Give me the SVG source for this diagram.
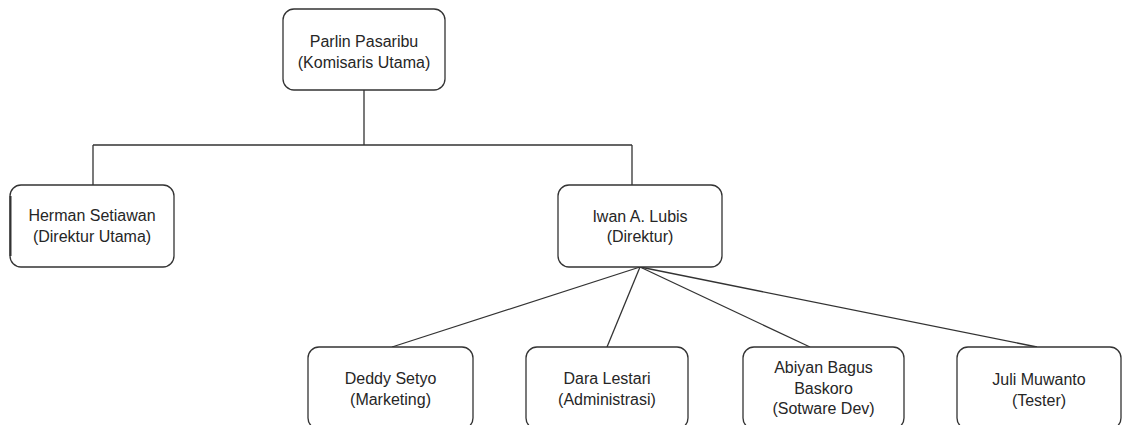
<svg xmlns="http://www.w3.org/2000/svg" width="1124" height="425" viewBox="0 0 1124 425">
  <style>
    .box { fill: #ffffff; stroke: #333333; stroke-width: 1.3; }
    .lbl { font-family: "Liberation Sans", Arial, sans-serif; font-size: 16px; fill: #262626; text-anchor: middle; }
    .wire { fill: none; stroke: #333333; stroke-width: 1.3; }
  </style>
  <rect width="1124" height="425" fill="#ffffff"/>

  <!-- connectors -->
  <g id="connectors">
    <path class="wire" d="M364 90 V145 M93 145 H632 M93 145 V185 M632 145 V185"/>
    <path class="wire" d="M640 267 L392 347"/>
    <path class="wire" d="M640 267 L607 347"/>
    <path class="wire" d="M640 267 L810 347"/>
    <path class="wire" d="M640 267 L1037 347"/>
  </g>

  <g id="node-parlin">
    <rect class="box" x="283" y="9" width="162" height="81" rx="11"/>
    <text class="lbl" x="364" y="47">Parlin Pasaribu</text>
    <text class="lbl" x="364" y="68">(Komisaris Utama)</text>
  </g>

  <g id="node-herman">
    <rect class="box" x="10" y="185" width="164" height="82" rx="11"/>
    <line x1="10.5" y1="196" x2="10.5" y2="256" stroke="#333333" stroke-width="2"/>
    <text class="lbl" x="92" y="221">Herman Setiawan</text>
    <text class="lbl" x="92" y="242">(Direktur Utama)</text>
  </g>

  <g id="node-iwan">
    <rect class="box" x="558" y="185" width="164" height="82" rx="11"/>
    <text class="lbl" x="640" y="222">Iwan A. Lubis</text>
    <text class="lbl" x="640" y="242">(Direktur)</text>
  </g>

  <g id="node-deddy">
    <rect class="box" x="308" y="347" width="165" height="82" rx="11"/>
    <text class="lbl" x="390.5" y="384">Deddy Setyo</text>
    <text class="lbl" x="390.5" y="405">(Marketing)</text>
  </g>

  <g id="node-dara">
    <rect class="box" x="526" y="347" width="162" height="82" rx="11"/>
    <text class="lbl" x="607" y="384">Dara Lestari</text>
    <text class="lbl" x="607" y="405">(Administrasi)</text>
  </g>

  <g id="node-abiyan">
    <rect class="box" x="743" y="347" width="161" height="82" rx="11"/>
    <text class="lbl" x="823.5" y="373">Abiyan Bagus</text>
    <text class="lbl" x="823.5" y="394">Baskoro</text>
    <text class="lbl" x="823.5" y="414">(Sotware Dev)</text>
  </g>

  <g id="node-juli">
    <rect class="box" x="957" y="347" width="164" height="82" rx="11"/>
    <text class="lbl" x="1039" y="385">Juli Muwanto</text>
    <text class="lbl" x="1039" y="406">(Tester)</text>
  </g>
</svg>
